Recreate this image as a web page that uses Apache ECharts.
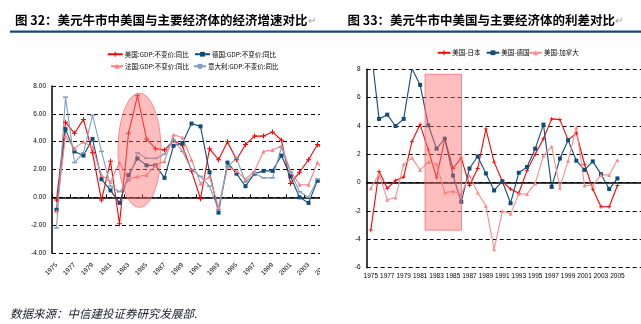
<!DOCTYPE html>
<html><head><meta charset="utf-8">
<script src="https://cdn.jsdelivr.net/npm/echarts@6/dist/echarts.min.js"></script>
<style>
html,body{margin:0;padding:0;background:#fff;width:641px;height:324px;overflow:hidden;position:relative}
#lw{position:absolute;left:0;top:0;width:320px;height:324px;overflow:hidden}
#rw{position:absolute;left:320px;top:0;width:321px;height:324px;overflow:hidden}
#c1{width:360px;height:324px}
#c2{width:340px;height:324px}
</style></head><body>
<div id="lw"><div id="c1"></div></div>
<div id="rw"><div id="c2"></div></div>
<script>
// ---------- Chart 32 data: real GDP growth (%), 1975-2006 ----------
const years32 = ['1975','1976','1977','1978','1979','1980','1981','1982','1983','1984','1985','1986','1987','1988','1989','1990','1991','1992','1993','1994','1995','1996','1997','1998','1999','2000','2001','2002','2003','2004','2005','2006'];
const names32 = ['美国:GDP:不变价:同比','德国:GDP:不变价:同比','法国:GDP:不变价:同比','意大利:GDP:不变价:同比'];
const gdpUS = [-0.2,5.4,4.6,5.6,3.2,-0.2,2.6,-1.9,4.6,7.3,4.2,3.5,3.4,4.1,3.7,1.9,-0.1,3.5,2.7,4.0,2.7,3.8,4.4,4.4,4.7,4.1,1.0,1.8,2.7,3.8,3.3];
const gdpDE = [-0.9,4.9,3.3,3.0,4.2,1.3,0.5,-0.4,1.6,2.8,2.3,2.3,1.4,3.7,3.9,5.3,5.1,1.8,-1.1,2.5,1.7,0.8,1.7,1.9,1.9,3.0,1.5,0.0,-0.4,1.2,0.8];
const gdpFR = [-1.0,4.4,3.5,4.0,3.6,1.6,1.1,2.5,1.3,1.5,1.6,2.3,2.6,4.5,4.3,2.7,1.0,1.5,-0.7,2.2,1.9,1.3,1.9,3.3,3.4,3.7,1.9,0.9,0.9,2.5,1.7];
const gdpIT = [-2.2,7.2,2.5,3.2,5.9,3.3,0.8,0.4,1.2,3.2,2.8,2.8,3.1,4.1,3.3,2.0,1.5,0.8,-0.9,2.2,2.8,1.1,1.7,1.4,1.4,3.6,1.8,0.4,0.0,1.3,0.6];
const yTicks32 = {min:-4, max:8, step:2};
// highlight ellipse (data units: category index & value)
const ellipse32 = {cx:9.22, rx:2.39, cy:3.38, ry:4.1};

// ---------- Chart 33 data: interest-rate spreads, 1975-2005 ----------
const years33 = ['1975','1976','1977','1978','1979','1980','1981','1982','1983','1984','1985','1986','1987','1988','1989','1990','1991','1992','1993','1994','1995','1996','1997','1998','1999','2000','2001','2002','2003','2004','2005','','',''];
const names33 = ['美国-日本','美国-德国','美国-加拿大'];
const sprJP = [-3.35,0.8,-0.4,0.15,0.4,2.9,4.1,2.3,0.35,3.1,1.0,1.75,-0.2,1.0,3.8,1.45,0.1,-0.45,-0.75,0.85,2.0,3.1,4.5,4.45,3.0,3.5,1.3,-0.45,-1.7,-1.7,-0.2];
const sprDE = [9.6,4.5,4.8,4.0,4.5,8.05,6.9,4.05,2.4,3.1,0.5,-1.35,1.0,1.85,0.65,-0.55,0.1,-1.45,0.7,1.1,2.4,4.1,-0.3,1.7,3.0,1.55,0.9,1.5,0.6,-0.45,0.3];
const sprCA = [-0.4,0.6,-1.2,-1.05,1.3,1.75,0.9,1.45,1.3,-0.7,-0.6,-0.8,0.5,-0.7,-1.65,-4.7,-2.0,-2.2,-0.8,-0.8,-0.05,1.9,2.55,-0.35,1.55,3.9,-0.2,-0.2,0.55,0.55,1.6];
const yTicks33 = {min:-6, max:8, step:2};
// highlight rectangle (data units)
const rect33 = {x0:6.6, x1:11.03, y0:-3.35, y1:7.65};

const LAT = '"Liberation Sans", Arial, sans-serif';
const CJK = '"Noto Sans CJK SC", sans-serif';
const PLUS = 'path://M4,0H6V4H10V6H6V10H4V6H0V4H4Z';
const DASH = 'path://M0,0H10V3H0Z';
const RULE = '#17477a';

function legendItem(name, left, top, w){
  return {data:[name], left:left, top:top, padding:0, itemWidth:w, itemHeight:6, itemGap:0,
    textStyle:{fontSize:6.5, color:'#000', fontFamily:CJK, padding:[0,0,0,-3]}};
}
function lineSeries(name, data, color, symbol, size, xi){
  return {name:name, type:'line', data:data, xAxisIndex:xi||0, yAxisIndex:0,
    symbol:symbol, symbolSize:size, showAllSymbol:true, smooth:false,
    lineStyle:{color:color, width:1.1}, itemStyle:{color:color}, emphasis:{disabled:true}};
}

// ---------------- Chart 32 ----------------
const c1 = echarts.init(document.getElementById('c1'));
c1.setOption({
  animation:false,
  title:{text:'图 32：美元牛市中美国与主要经济体的经济增速对比{p|↵}', left:10, top:9,
    textStyle:{fontSize:12.5, fontWeight:'bold', color:'#000', fontFamily:CJK,
      rich:{p:{fontSize:10, color:'#999', fontWeight:'normal'}}}},
  legend:[legendItem(names32[0],106.7,51,15), legendItem(names32[1],194,51,15),
          legendItem(names32[2],110,63,12), legendItem(names32[3],193,63,12)],
  grid:{left:52, top:86, width:288, height:167},
  xAxis:[
    {type:'category', data:years32, boundaryGap:true, position:'bottom',
     axisLine:{show:false, onZero:false}, axisTick:{show:false},
     axisLabel:{interval:1, rotate:45, fontSize:6.5, margin:11, color:'#000', fontFamily:LAT}},
    {type:'category', data:years32, boundaryGap:true, position:'bottom',
     axisLine:{show:true, onZero:true, lineStyle:{color:'#000', width:1.5}},
     axisTick:{show:true, inside:true, interval:1, length:3, lineStyle:{color:'#000'}},
     axisLabel:{show:false}}
  ],
  yAxis:{type:'value', min:yTicks32.min, max:yTicks32.max, interval:yTicks32.step,
    axisLine:{show:true, lineStyle:{color:'#000', width:1.5}}, axisTick:{show:false},
    splitLine:{show:true, lineStyle:{type:[4,3], color:'#000', width:1}},
    axisLabel:{formatter:v=>v.toFixed(2), fontSize:6.5, margin:6, color:'#000', fontFamily:LAT}},
  series:[
    lineSeries(names32[0], gdpUS, '#ff0000', PLUS, 5),
    lineSeries(names32[1], gdpDE, '#0e4c7c', 'rect', 4),
    lineSeries(names32[2], gdpFR, '#ff8080', 'triangle', 4),
    lineSeries(names32[3], gdpIT, '#7e9fc0', DASH, [5,1.5])
  ],
  graphic:[
    {id:'rule', type:'rect', shape:{x:10, y:30.5, width:360, height:2.2}, style:{fill:RULE}},
    {id:'src', type:'text', left:10, top:308, style:{text:'数据来源：中信建投证券研究发展部.', fontSize:11.5, fontStyle:'italic', fill:'#1a1a2a', fontFamily:CJK}}
  ]
});
(function(){
  const f = {xAxisIndex:0, yAxisIndex:0};
  const a = c1.convertToPixel(f, [0, 0]);
  const b = c1.convertToPixel(f, [1, 0]);
  const band = b[0]-a[0];
  const cx = a[0] + ellipse32.cx*band;
  const cy = c1.convertToPixel({yAxisIndex:0}, ellipse32.cy);
  const ry = Math.abs(c1.convertToPixel({yAxisIndex:0}, ellipse32.cy+ellipse32.ry) - cy);
  c1.setOption({graphic:[{id:'ell', type:'ellipse', z:100,
    shape:{cx:cx, cy:cy, rx:ellipse32.rx*band, ry:ry},
    style:{fill:'rgba(255,110,110,0.45)', stroke:'rgba(255,110,110,0.75)', lineWidth:1}}]});
})();

// ---------------- Chart 33 ----------------
const c2 = echarts.init(document.getElementById('c2'));
c2.setOption({
  animation:false,
  title:{text:'图 33：美元牛市中美国与主要经济体的利差对比{p|↵}', left:22.5, top:9,
    textStyle:{fontSize:12.5, fontWeight:'bold', color:'#000', fontFamily:CJK,
      rich:{p:{fontSize:10, color:'#999', fontWeight:'normal'}}}},
  legend:[legendItem(names33[0],116.7,49.5,12.6), legendItem(names33[1],165.7,49.5,12.6),
          legendItem(names33[2],208.3,49.5,12.6)],
  grid:{left:46.7, top:69.3, width:279.5, height:198.4},
  xAxis:[
    {type:'category', data:years33, boundaryGap:true, position:'bottom',
     axisLine:{show:false, onZero:false}, axisTick:{show:false},
     axisLabel:{interval:1, fontSize:6.5, margin:5, color:'#000', fontFamily:LAT}},
    {type:'category', data:years33, boundaryGap:true, position:'bottom',
     axisLine:{show:true, onZero:true, lineStyle:{color:'#000', width:1.5}},
     axisTick:{show:false}, axisLabel:{show:false}}
  ],
  yAxis:{type:'value', min:yTicks33.min, max:yTicks33.max, interval:yTicks33.step,
    axisLine:{show:true, lineStyle:{color:'#000', width:1.5}}, axisTick:{show:false},
    splitLine:{show:true, lineStyle:{type:[4,3], color:'#000', width:1}},
    axisLabel:{fontSize:6.5, margin:6, color:'#000', fontFamily:LAT}},
  series:[
    lineSeries(names33[0], sprJP, '#ff0000', PLUS, 4),
    lineSeries(names33[1], sprDE, '#0e4c7c', 'rect', 4),
    lineSeries(names33[2], sprCA, '#ff8c8c', 'triangle', 4)
  ],
  graphic:[
    {id:'rule', type:'rect', shape:{x:0, y:30.5, width:340, height:2.2}, style:{fill:RULE}}
  ]
});
(function(){
  const f = {xAxisIndex:0, yAxisIndex:0};
  const a = c2.convertToPixel(f, [0, 0]);
  const b = c2.convertToPixel(f, [1, 0]);
  const band = b[0]-a[0];
  const x0 = a[0] + rect33.x0*band, x1 = a[0] + rect33.x1*band;
  const yA = c2.convertToPixel({yAxisIndex:0}, rect33.y1);
  const yB = c2.convertToPixel({yAxisIndex:0}, rect33.y0);
  c2.setOption({graphic:[{id:'hl', type:'rect', z:100,
    shape:{x:x0, y:yA, width:x1-x0, height:yB-yA},
    style:{fill:'rgba(255,110,110,0.45)', stroke:'rgba(255,110,110,0.8)', lineWidth:1}}]});
})();
</script>
</body></html>
